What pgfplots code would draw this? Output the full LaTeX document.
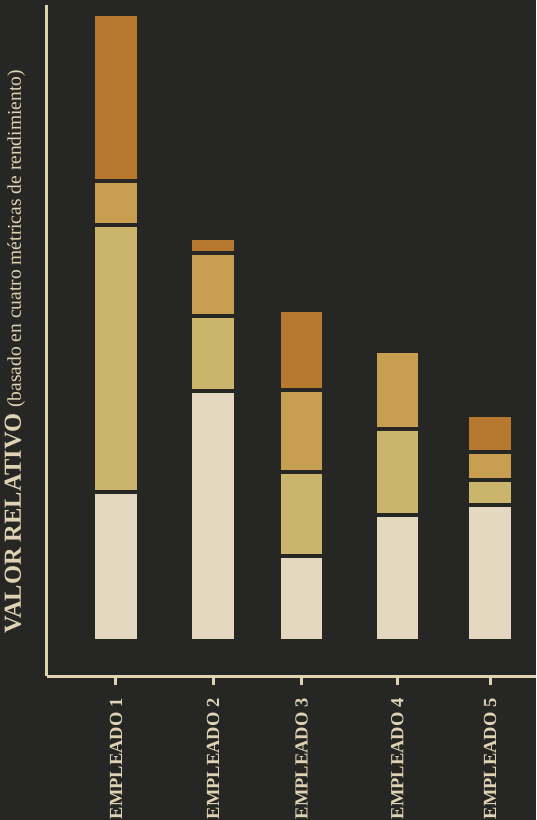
\documentclass[border=0pt]{standalone}
\usepackage{pgfplots}
\pgfplotsset{compat=1.18}
\usepackage{fontspec}
\setmainfont{Liberation Serif}

\definecolor{bg}{RGB}{38,38,36}
\definecolor{ink}{RGB}{224,211,180}
\definecolor{crema}{RGB}{228,216,192}
\definecolor{caqui}{RGB}{203,180,108}
\definecolor{oro}{RGB}{200,158,80}
\definecolor{naranja}{RGB}{183,121,48}

\begin{document}
\begin{tikzpicture}
\fill[bg] (-47pt,-144pt) rectangle (489pt,676pt);
\begin{axis}[
    at={(0,0)}, anchor=south west,
    scale only axis,
    width=489pt, height=671pt,
    ybar stacked,
    bar width=0.48,
    xmin=-0.736, xmax=4.48,
    ymin=-35, ymax=636,
    axis lines=left,
    axis line style={-, ink, line width=3pt},
    ytick=\empty,
    xtick={0,1.035,1.98,3,3.99},
    xticklabels={EMPLEADO 1,EMPLEADO 2,EMPLEADO 3,EMPLEADO 4,EMPLEADO 5},
    tick align=outside,
    major tick length=9pt,
    tick style={ink, line width=3pt},
    xticklabel style={rotate=90, anchor=east, ink, font=\fontsize{18.5pt}{18.5pt}\selectfont\bfseries, xshift=-10pt},
    ylabel={\fontsize{24.5pt}{24.5pt}\selectfont\bfseries VALOR RELATIVO\ {\fontsize{19.5pt}{19.5pt}\selectfont\mdseries(basado en cuatro métricas de rendimiento)}},
    every axis y label/.style={at={(axis description cs:-0.066,0.483)}, rotate=90, anchor=center, text=ink},
    every axis plot/.append style={draw=bg, line width=3.5pt},
]
\addplot[fill=crema] coordinates {(0,149) (1.035,250) (1.98,85) (3,126) (3.99,136)};
\addplot[fill=caqui] coordinates {(0,267) (1.035,75) (1.98,84) (3,86) (3.99,25)};
\addplot[fill=oro] coordinates {(0,44) (1.035,63) (1.98,82) (3,78) (3.99,28)};
\addplot[fill=naranja] coordinates {(0,167) (1.035,15) (1.98,80) (3,0) (3.99,37)};
\end{axis}
\pgfresetboundingbox
\useasboundingbox (-47pt,-144pt) rectangle (489pt,676pt);
\end{tikzpicture}
\end{document}
